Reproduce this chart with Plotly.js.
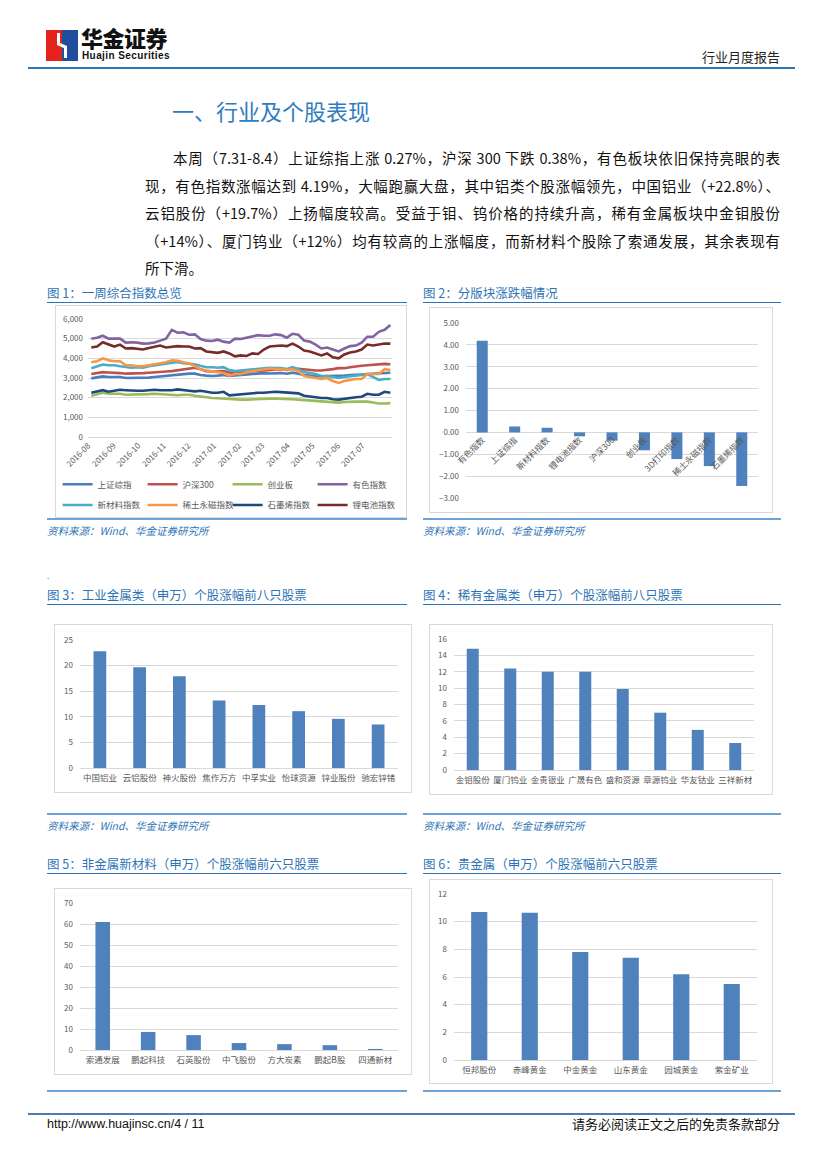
<!DOCTYPE html>
<html><head><meta charset="utf-8">
<script src="https://cdn.plot.ly/plotly-3.0.1.min.js"></script>
<style>
html,body{margin:0;padding:0;background:#fff;}
body{width:827px;height:1169px;position:relative;overflow:hidden;font-family:'Noto Sans CJK SC',sans-serif;color:#111;}
.a{position:absolute;white-space:nowrap;}
.cap{font-size:12.5px;color:#2e74b5;line-height:16px;}
.src{font-size:10.5px;color:#2e74b5;font-style:italic;line-height:14px;}
.ul{height:1px;background:#2e74b5;}
.bl{height:2px;background:#6ea3d8;}
.box{border:1px solid #d9d9d9;box-sizing:border-box;pointer-events:none;}
.p{left:145px;width:635px;font-size:14.5px;line-height:20px;text-align:justify;text-align-last:justify;color:#111;}
</style></head>
<body>
<!-- header -->
<svg class="a" style="left:46px;top:30px" width="32" height="31">
<rect x="0" y="0" width="16" height="31" fill="#e3231c"/>
<rect x="16" y="0" width="16" height="31" fill="#1f4e9d"/>
<polyline points="12.5,3 12.5,14 19.5,17 19.5,28" stroke="#fff" stroke-width="3" fill="none"/>
</svg>
<div class="a" style="left:81px;top:26px;font-size:22px;font-weight:900;letter-spacing:-0.5px;line-height:23px;color:#111;">华金证券</div>
<div class="a" style="left:82px;top:50px;font-size:10px;font-weight:bold;letter-spacing:0.4px;font-family:'Liberation Sans',Arial,sans-serif;line-height:11px;color:#111;">Huajin Securities</div>
<div class="a" style="right:47px;top:48px;font-size:13px;line-height:18px;color:#222;">行业月度报告</div>
<div class="a" style="left:28px;top:67px;width:767px;height:2px;background:#2e74b5;"></div>

<div class="a" style="left:172px;top:95px;font-size:22px;line-height:30px;color:#2f7cc0;">一、行业及个股表现</div>

<div class="a p" style="top:148px;padding-left:28px;width:607px;">本周（7.31-8.4）上证综指上涨 0.27%，沪深 300 下跌 0.38%，有色板块依旧保持亮眼的表</div>
<div class="a p" style="top:176px;">现，有色指数涨幅达到 4.19%，大幅跑赢大盘，其中铝类个股涨幅领先，中国铝业（+22.8%）、</div>
<div class="a p" style="top:203px;">云铝股份（+19.7%）上扬幅度较高。受益于钼、钨价格的持续升高，稀有金属板块中金钼股份</div>
<div class="a p" style="top:231px;">（+14%）、厦门钨业（+12%）均有较高的上涨幅度，而新材料个股除了索通发展，其余表现有</div>
<div class="a p" style="top:258px;text-align-last:left;">所下滑。</div>

<!-- captions -->
<div class="a cap" style="left:47px;top:285px;">图 1：一周综合指数总览</div>
<div class="a ul" style="left:47px;top:302px;width:360px;"></div>
<div class="a cap" style="left:423px;top:285px;">图 2：分版块涨跌幅情况</div>
<div class="a ul" style="left:423px;top:302px;width:358px;"></div>
<div class="a bl" style="left:47px;top:518px;width:360px;"></div>
<div class="a bl" style="left:423px;top:518px;width:358px;"></div>
<div class="a src" style="left:47px;top:524px;">资料来源：Wind、华金证券研究所</div>
<div class="a src" style="left:423px;top:524px;">资料来源：Wind、华金证券研究所</div>

<div class="a" style="left:47px;top:570px;font-size:8px;color:#666;">.</div>

<div class="a cap" style="left:47px;top:587px;">图 3：工业金属类（申万）个股涨幅前八只股票</div>
<div class="a ul" style="left:47px;top:604px;width:360px;"></div>
<div class="a cap" style="left:423px;top:587px;">图 4：稀有金属类（申万）个股涨幅前八只股票</div>
<div class="a ul" style="left:423px;top:604px;width:358px;"></div>
<div class="a bl" style="left:47px;top:813px;width:360px;"></div>
<div class="a bl" style="left:423px;top:813px;width:358px;"></div>
<div class="a src" style="left:47px;top:819px;">资料来源：Wind、华金证券研究所</div>
<div class="a src" style="left:423px;top:819px;">资料来源：Wind、华金证券研究所</div>

<div class="a cap" style="left:47px;top:856px;">图 5：非金属新材料（申万）个股涨幅前六只股票</div>
<div class="a ul" style="left:47px;top:873px;width:360px;"></div>
<div class="a cap" style="left:423px;top:856px;">图 6：贵金属（申万）个股涨幅前六只股票</div>
<div class="a ul" style="left:423px;top:873px;width:358px;"></div>
<div class="a bl" style="left:47px;top:1090px;width:360px;"></div>
<div class="a bl" style="left:423px;top:1090px;width:358px;"></div>

<div class="a" style="left:28px;top:1113px;width:767px;height:2px;background:#4a7db3;"></div>
<div class="a" style="left:47px;top:1116px;font-size:12.5px;line-height:16px;font-family:'Liberation Sans',Arial,sans-serif;color:#111;">http://www.huajinsc.cn/4 / 11</div>
<div class="a" style="right:47px;top:1115px;font-size:13px;line-height:18px;color:#111;">请务必阅读正文之后的免责条款部分</div>

<!-- chart containers -->
<div id="c1" class="a" style="left:55px;top:305px;width:352px;height:213px;"></div>
<div class="a box" style="left:55px;top:305px;width:352px;height:213px;"></div>
<div id="c2" class="a" style="left:429px;top:307px;width:344px;height:206px;"></div>
<div class="a box" style="left:429px;top:307px;width:344px;height:206px;"></div>
<div id="c3" class="a" style="left:54px;top:624px;width:358px;height:169px;"></div>
<div class="a box" style="left:54px;top:624px;width:358px;height:169px;"></div>
<div id="c4" class="a" style="left:429px;top:624px;width:344px;height:171px;"></div>
<div class="a box" style="left:429px;top:624px;width:344px;height:171px;"></div>
<div id="c5" class="a" style="left:54px;top:888px;width:358px;height:187px;"></div>
<div class="a box" style="left:54px;top:888px;width:358px;height:187px;"></div>
<div id="c6" class="a" style="left:429px;top:879px;width:344px;height:205px;"></div>
<div class="a box" style="left:429px;top:879px;width:344px;height:205px;"></div>

<script>
// ---------- Figure 1 data (weekly closes) ----------
const dates = ['2016-08-05','2016-08-12','2016-08-19','2016-08-26','2016-09-02','2016-09-09','2016-09-16','2016-09-23','2016-09-30','2016-10-07',
'2016-10-14','2016-10-21','2016-10-28','2016-11-04','2016-11-11','2016-11-18','2016-11-25','2016-12-02','2016-12-09','2016-12-16',
'2016-12-23','2016-12-30','2017-01-06','2017-01-13','2017-01-20','2017-01-27','2017-02-03','2017-02-10','2017-02-17','2017-02-24',
'2017-03-03','2017-03-10','2017-03-17','2017-03-24','2017-03-31','2017-04-07','2017-04-14','2017-04-21','2017-04-28','2017-05-05',
'2017-05-12','2017-05-19','2017-05-26','2017-06-02','2017-06-09','2017-06-16','2017-06-23','2017-06-30','2017-07-07','2017-07-14',
'2017-07-21','2017-07-28','2017-08-04'];
const monthTicks = ['2016-08-01','2016-09-01','2016-10-01','2016-11-01','2016-12-01','2017-01-01',
'2017-02-01','2017-03-01','2017-04-01','2017-05-01','2017-06-01','2017-07-01'];
const monthLabels = ['2016-08','2016-09','2016-10','2016-11','2016-12','2017-01',
'2017-02','2017-03','2017-04','2017-05','2017-06','2017-07'];
const seriesNames = ['上证综指','沪深300','创业板','有色指数','新材料指数','稀土永磁指数','石墨烯指数','锂电池指数'];
const shIndex = [2980,3020,3080,3050,3050,3050,3000,3000,3020,3000,
3020,3050,3080,3100,3120,3180,3200,3220,3220,3150,
3120,3100,3120,3150,3100,3120,3150,3180,3200,3220,
3250,3230,3240,3250,3220,3270,3220,3150,3120,3100,
3080,3100,3100,3100,3120,3150,3180,3180,3200,3220,
3250,3250,3270];
const hs300 = [3200,3250,3300,3280,3280,3250,3220,3220,3250,3250,
3270,3300,3320,3330,3350,3400,3420,3500,3520,3450,
3350,3330,3330,3350,3280,3250,3300,3320,3350,3380,
3400,3420,3450,3450,3430,3480,3470,3430,3420,3380,
3380,3400,3450,3500,3500,3550,3600,3620,3650,3670,
3700,3720,3700];
const chinext = [2100,2180,2250,2200,2200,2200,2150,2150,2150,2150,
2180,2200,2180,2150,2150,2120,2150,2150,2100,2050,
2000,1980,1970,1950,1920,1900,1900,1900,1920,1930,
1950,1950,1950,1950,1930,1920,1900,1880,1850,1850,
1820,1800,1780,1750,1780,1800,1800,1800,1800,1750,
1700,1700,1720];
const nonferrous = [5000,5050,5150,5000,5000,5000,4800,4820,4800,4750,
4760,4800,4900,5000,5450,5300,5320,5200,5220,4980,
4900,4880,4950,4850,4800,5000,4980,5050,5100,5180,
5150,5150,5220,5180,5050,5250,5200,4900,4850,4700,
4500,4550,4450,4350,4500,4620,4650,4800,5100,5100,
5350,5450,5700];
const newMaterial = [3500,3600,3680,3650,3650,3600,3550,3520,3550,3520,
3600,3650,3700,3720,3800,3820,3750,3720,3700,3620,
3550,3550,3520,3550,3400,3350,3380,3400,3450,3480,
3500,3520,3500,3500,3450,3550,3450,3300,3250,3200,
3100,3100,3050,3000,3050,3080,3100,3150,3200,3050,
2900,2950,2950];
const rareEarth = [3800,3850,4000,3900,3850,3850,3650,3650,3600,3600,
3650,3700,3720,3800,3900,3880,3800,3750,3600,3450,
3380,3350,3300,3250,3120,3200,3200,3300,3350,3400,
3420,3480,3450,3450,3400,3450,3350,3100,3050,3000,
2950,3000,2850,2750,2850,2900,2950,2950,3200,3200,
3200,3450,3400];
const graphene = [2250,2300,2380,2300,2350,2400,2380,2350,2350,2350,
2380,2400,2380,2380,2380,2420,2400,2350,2320,2350,
2300,2250,2250,2300,2120,2150,2150,2200,2220,2250,
2250,2280,2300,2280,2250,2250,2220,2100,2050,2000,
1980,1980,1920,1900,1950,2000,2020,2050,2200,2150,
2150,2300,2250];
const lithium = [4550,4600,4820,4700,4600,4700,4500,4520,4480,4450,
4520,4580,4650,4550,4600,4620,4600,4600,4500,4520,
4350,4300,4280,4350,4250,4100,4150,4120,4250,4220,
4450,4600,4620,4650,4620,4750,4600,4400,4350,4250,
4150,4250,4050,4000,4200,4300,4350,4450,4700,4650,
4700,4750,4750];

// ---------- Figure 2 ----------
const sectorCats = ['有色指数','上证综指','新材料指数','锂电池指数','沪深300','创业板','3D打印指数','稀土永磁指数','石墨烯指数'];
const sectorChg = [4.19,0.27,0.21,-0.18,-0.38,-0.82,-1.22,-1.54,-2.45];

// ---------- Figure 3 ----------
const indCats = ['中国铝业','云铝股份','神火股份','焦作万方','中孚实业','怡球资源','锌业股份','驰宏锌锗'];
const indChg = [22.8,19.7,17.9,13.2,12.3,11.1,9.6,8.5];

// ---------- Figure 4 ----------
const rareCats = ['金钼股份','厦门钨业','金贵银业','广晟有色','盛和资源','章源钨业','华友钴业','三祥新材'];
const rareChg = [14.8,12.4,12.0,12.0,9.9,7.0,4.9,3.3];

// ---------- Figure 5 ----------
const nmCats = ['索通发展','鹏起科技','石英股份','中飞股份','方大炭素','鹏起B股','四通新材'];
const nmChg = [61.0,8.6,7.1,3.3,2.8,2.3,0.5];

// ---------- Figure 6 ----------
const pmCats = ['恒邦股份','赤峰黄金','中金黄金','山东黄金','园城黄金','紫金矿业'];
const pmChg = [10.7,10.65,7.8,7.4,6.2,5.5];

const FONT = 'Noto Sans CJK SC, sans-serif';
const GRAY = '#595959';
const GRID = '#d9d9d9';
const BAR = '#4f81bd';
const cfg = {staticPlot:true, displayModeBar:false};

// Figure 1
const lineData = [shIndex,hs300,chinext,nonferrous,newMaterial,rareEarth,graphene,lithium];
const lineColors = ['#4a7ebb','#c0504d','#9bbb59','#8064a2','#4bacc6','#f79646','#1f497d','#772c2a'];
const traces1 = lineData.map((ys,i)=>({
  type:'scatter', mode:'lines', x:dates, y:ys, name:seriesNames[i],
  line:{color:lineColors[i], width:2.6},
  legend: i<4 ? 'legend' : 'legend2'
}));
const legBase = {orientation:'h', xanchor:'left', yanchor:'middle', x:-0.10,
  font:{family:FONT,size:8.5,color:GRAY}, bgcolor:'rgba(0,0,0,0)',
  entrywidth:40, entrywidthmode:'pixels', itemwidth:30, traceorder:'normal'};
Plotly.newPlot('c1', traces1, {
  width:352, height:213,
  margin:{l:33,r:15,t:14,b:81,autoexpand:false},
  paper_bgcolor:'#fff', plot_bgcolor:'#fff',
  font:{family:FONT,color:GRAY},
  showlegend:true,
  legend:Object.assign({}, legBase, {y:-0.40}),
  legend2:Object.assign({}, legBase, {y:-0.576}),
  xaxis:{type:'date', range:['2016-08-01','2017-08-06'], tickmode:'array', tickvals:monthTicks, ticktext:monthLabels,
    tickangle:-45, tickfont:{size:8,color:GRAY,family:FONT},
    showgrid:false, showline:true, linecolor:GRID, linewidth:1, ticks:'', zeroline:false, automargin:false},
  yaxis:{range:[0,6000], dtick:1000, tickformat:',d', tickfont:{size:8,color:GRAY,family:FONT},
    gridcolor:GRID, gridwidth:1, zeroline:false, showline:false, ticks:'', ticklabelstandoff:4, automargin:false}
}, cfg);

// Bar chart helper
function barChart(id, cats, vals, w, h, m, yr, dt, fmt, extra){
  const layout = {
    width:w, height:h,
    margin:Object.assign({autoexpand:false}, m),
    paper_bgcolor:'#fff', plot_bgcolor:'#fff',
    font:{family:FONT,color:GRAY}, showlegend:false, bargap:0.68,
    xaxis:{type:'category', tickfont:{size:8.5,color:GRAY,family:FONT}, showgrid:false,
      showline:true, linecolor:GRID, linewidth:1, ticks:'', zeroline:false, automargin:false, ticklabelstandoff:2},
    yaxis:{range:yr, dtick:dt, tickformat:fmt, tickfont:{size:8,color:GRAY,family:FONT},
      gridcolor:GRID, gridwidth:1, zeroline:false, showline:false, ticks:'', ticklabelstandoff:6, automargin:false}
  };
  if(extra) extra(layout);
  Plotly.newPlot(id, [{type:'bar', x:cats, y:vals, marker:{color:BAR, line:{width:0}}}], layout, cfg);
}

barChart('c2', sectorCats, sectorChg, 344, 206, {l:37,r:15,t:16,b:15}, [-3,5], 1, '.2f', (L)=>{
  L.bargap = 0.66;
  L.xaxis.anchor = 'free';
  L.xaxis.position = 3/8;
  L.xaxis.tickangle = -45;
  L.xaxis.showline = false;
  L.xaxis.ticklabelstandoff = 0;
  L.yaxis.zeroline = true; L.yaxis.zerolinecolor = GRID; L.yaxis.zerolinewidth = 1;
});
barChart('c3', indCats, indChg, 358, 169, {l:26,r:14,t:16,b:25}, [0,25], 5, 'd');
barChart('c4', rareCats, rareChg, 344, 171, {l:25,r:19,t:15,b:25}, [0,16], 2, 'd');
barChart('c5', nmCats, nmChg, 358, 187, {l:26,r:14,t:15,b:25}, [0,70], 10, 'd');
barChart('c6', pmCats, pmChg, 344, 205, {l:25,r:16,t:15,b:24}, [0,12], 2, 'd');
</script>
</body></html>
